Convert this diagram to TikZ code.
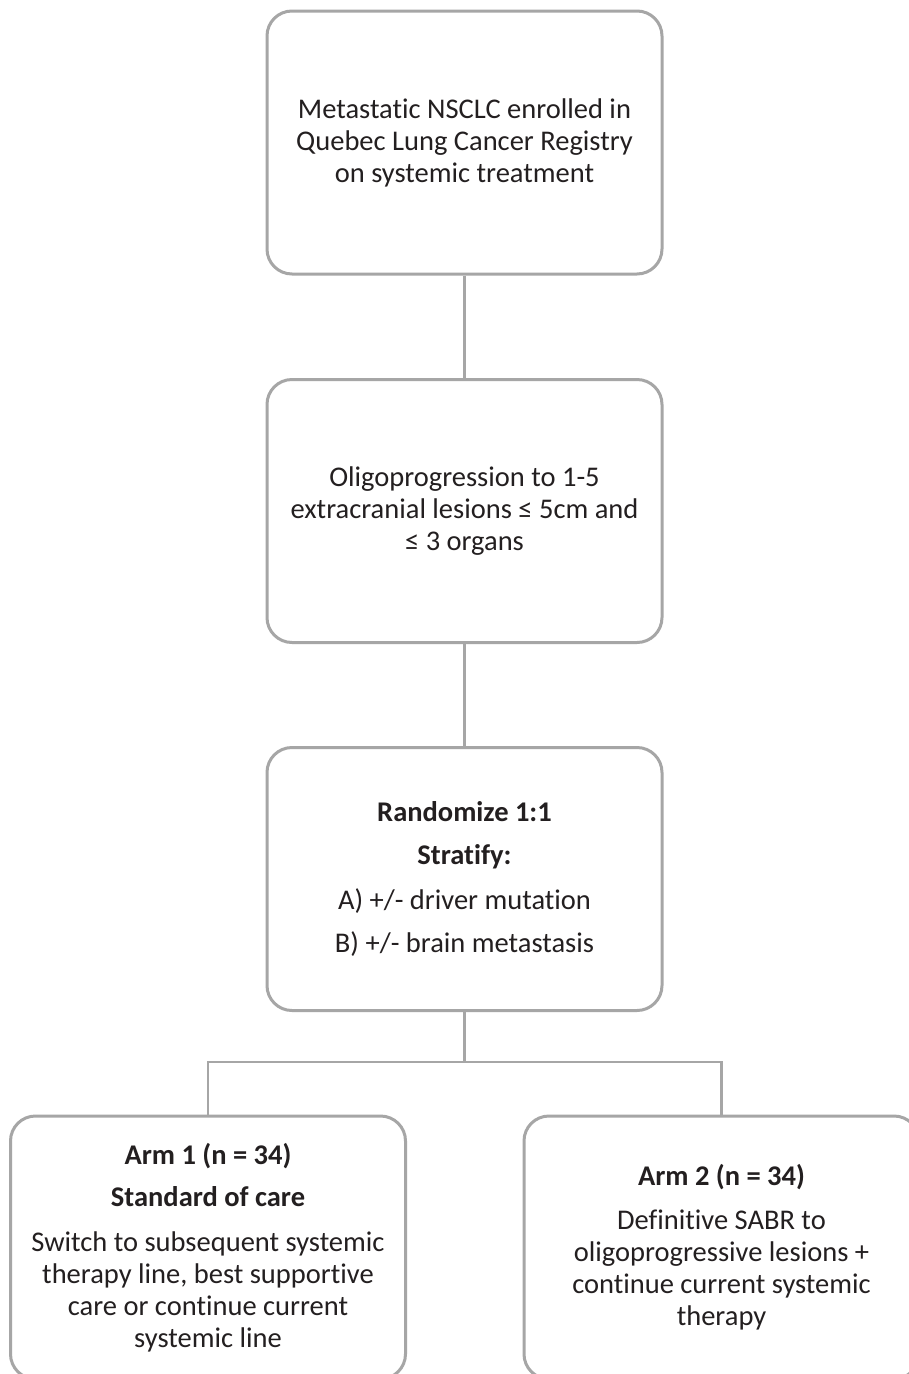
\documentclass[tikz,border=0pt]{standalone}
\usepackage{fontspec}
\setmainfont[Ligatures=NoCommon]{Carlito}
\definecolor{boxgray}{RGB}{166,166,166}
\definecolor{txt}{RGB}{35,31,32}
\tikzset{
  stepbox/.style={draw=boxgray, line width=3pt, rounded corners=25pt, fill=white,
    minimum width=395pt, minimum height=263pt, inner sep=0pt, align=center,
    text=txt, font=\fontsize{28.5}{32}\selectfont},
  link/.style={draw=boxgray, line width=2.5pt}
}
\begin{document}
\begin{tikzpicture}[x=1pt,y=-1pt]
\useasboundingbox (0,0) rectangle (909,1374);
\clip (0,0) rectangle (909,1374);
\fill[white] (0,0) rectangle (909,1374);
\node[stepbox] (b1) at (464.5,142.5) {Metastatic NSCLC enrolled in\\Quebec Lung Cancer Registry\\on systemic treatment};
\node[stepbox] (b2) at (464.5,511) {Oligoprogression to 1-5\\extracranial lesions ≤ 5cm and\\≤ 3 organs};
\node[stepbox] (b3) at (464.5,879) {\textbf{Randomize 1:1}\\[11pt]\textbf{Stratify:}\\[13pt]A) +/- driver mutation\\[11pt]B) +/- brain metastasis};
\node[stepbox] (a1) at (208,1247.5) {\textbf{Arm 1 (n = 34)}\\[10pt]\textbf{Standard of care}\\[13pt]Switch to subsequent systemic\\therapy line, best supportive\\care or continue current\\systemic line};
\node[stepbox] (a2) at (721.5,1247.5) {\textbf{Arm 2 (n = 34)}\\[12pt]Definitive SABR to\\oligoprogressive lesions +\\continue current systemic\\therapy};
\coordinate (split) at (464.5,1062);
\draw[link] (b1.south) -- (b2.north);
\draw[link] (b2.south) -- (b3.north);
\draw[link] (b3.south) -- (split);
\draw[link] (split) -| (a1.north);
\draw[link] (split) -| (a2.north);
\end{tikzpicture}
\end{document}
